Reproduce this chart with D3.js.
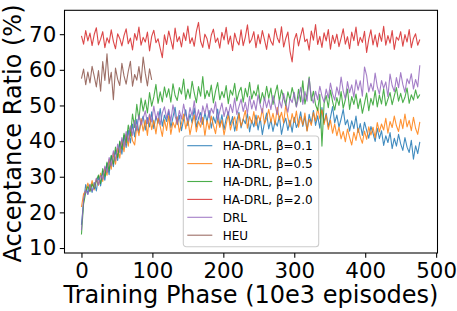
<!DOCTYPE html>
<html>
<head>
<meta charset="utf-8">
<script src="https://cdn.jsdelivr.net/npm/d3@7"></script>
<style>
  body { margin: 0; background: #fff; }
  svg text { font-family: "DejaVu Sans", sans-serif; fill: #000; }
</style>
</head>
<body>
<div id="chart"></div>
<script>
// data, one value every 3 steps (x = index * 3)
var STEP = 3;

var heu = [
  69.5, 67.2, 71.0, 68.1, 70.3, 66.8, 69.9, 71.8, 67.0, 68.6, 70.7, 66.2, 69.0, 67.5, 71.2, 68.0, 65.9, 70.1, 68.8, 66.7,
  69.6, 71.5, 67.3, 68.9, 65.6, 70.2, 68.3, 72.0, 66.9, 69.1, 67.8, 70.6, 65.3, 69.4, 71.1, 67.6, 68.7, 66.0, 63.4, 69.8,
  67.1, 70.9, 68.4, 65.8, 71.7, 67.9, 69.3, 66.4, 70.4, 68.2, 72.3, 67.4, 69.0, 66.6, 70.8, 73.3, 68.0, 66.3, 70.0, 68.7,
  65.9, 69.7, 71.4, 67.7, 68.9, 66.1, 70.5, 68.4, 71.9, 67.2, 69.5, 65.4, 70.3, 68.1, 67.0, 71.2, 66.8, 69.2, 72.6, 67.5,
  68.6, 70.7, 66.2, 69.9, 67.3, 71.0, 68.5, 65.7, 70.1, 68.0, 66.9, 71.6, 69.0, 67.6, 72.1, 66.4, 68.8, 70.6, 65.2, 62.2,
  68.4, 70.2, 66.7, 69.5, 71.8, 67.9, 68.6, 65.5, 70.9, 68.3, 72.7, 67.1, 69.4, 66.3, 70.4, 68.1, 71.3, 65.8, 69.7, 67.4,
  70.0, 66.5, 68.9, 71.5, 67.2, 69.3, 65.9, 70.6, 68.2, 72.0, 66.8, 69.1, 67.7, 70.8, 64.9, 68.6, 71.2, 67.0, 69.8, 66.4,
  70.3, 68.0, 72.2, 66.9, 69.6, 67.5, 71.0, 65.7, 69.2, 68.3, 70.7, 66.6, 69.9, 67.8, 71.3, 66.2, 68.8, 70.1, 66.9, 68.5
];

var drl = [
  57.5, 60.2, 55.8, 59.4, 56.3, 61.0, 58.2, 55.2, 59.8, 54.0, 62.3, 57.0, 64.5, 56.1, 59.3, 51.6, 60.5,
  57.4, 55.6, 61.8, 58.3, 56.0, 59.6, 62.4, 55.4, 58.7, 57.1, 60.9, 56.4, 63.6, 59.0, 55.5, 60.3, 57.2
];

var beta01 = [
  16.5, 23.0, 27.8, 25.1, 27.9, 25.6, 28.4, 26.0, 30.2, 27.4, 31.5, 29.0, 33.8, 30.6, 35.9, 32.8, 37.4, 34.6, 39.8, 36.3,
  41.6, 38.2, 43.0, 39.5, 44.8, 41.2, 46.1, 42.4, 45.3, 47.0, 43.1, 46.6, 44.0, 48.2, 43.5, 46.9, 45.0, 49.1, 44.2, 47.3,
  45.5, 48.4, 43.8, 46.7, 49.5, 44.6, 47.2, 42.9, 46.0, 48.8, 44.3, 47.6, 45.1, 49.3, 43.9, 46.4, 48.0, 44.7, 47.9, 45.4,
  48.6, 43.6, 46.8, 45.0, 49.0, 44.1, 47.4, 43.2, 46.3, 48.2, 44.5, 46.9, 42.8, 45.7, 48.1, 43.7, 46.2, 44.9, 47.7, 42.6,
  45.8, 44.0, 47.3, 43.1, 46.5, 41.8, 45.2, 47.9, 43.4, 46.0, 42.7, 45.6, 44.2, 47.0, 41.9, 44.8, 46.4, 43.0, 45.9, 42.5,
  46.7, 43.8, 45.3, 48.2, 44.1, 46.9, 42.9, 47.5, 45.0, 48.6, 44.4, 47.1, 43.6, 49.4, 45.2, 47.8, 44.0, 46.6, 49.7, 45.1,
  47.3, 43.9, 46.2, 48.9, 44.6, 46.0, 42.8, 45.7, 43.5, 47.0, 42.4, 44.9, 41.6, 45.3, 43.0, 40.8, 44.1, 42.2, 39.9, 43.6,
  40.7, 42.9, 38.8, 41.5, 39.6, 42.4, 37.9, 40.8, 38.6, 41.9, 39.2, 37.4, 41.0, 38.3, 36.8, 40.2, 34.9, 38.7, 36.5, 39.8
];

var beta05 = [
  21.5, 25.2, 26.0, 28.2, 26.1, 28.9, 26.3, 29.4, 27.6, 31.0, 28.7, 32.6, 30.4, 34.9, 32.1, 36.7, 33.5, 38.1, 35.2, 40.3,
  37.0, 41.9, 38.6, 43.7, 40.1, 38.9, 44.2, 41.5, 46.3, 42.8, 45.9, 41.6, 47.4, 43.2, 45.8, 42.0, 46.5, 44.1, 41.3, 46.0,
  43.0, 47.1, 41.9, 45.3, 43.7, 46.8, 42.5, 45.0, 47.6, 43.4, 46.2, 41.8, 44.9, 47.3, 42.6, 45.5, 43.9, 46.7, 41.4, 45.8,
  43.3, 47.0, 44.4, 42.1, 46.3, 43.8, 45.9, 41.7, 44.6, 47.5, 43.1, 45.4, 46.8, 42.9, 47.7, 44.2, 46.1, 48.6, 43.6, 46.9,
  45.0, 48.3, 44.3, 47.2, 45.7, 49.1, 44.8, 46.4, 48.9, 45.3, 47.8, 44.6, 49.5, 46.0, 48.1, 45.1, 50.2, 46.6, 44.0, 47.7,
  45.2, 48.4, 43.9, 46.8, 44.5, 47.9, 42.8, 46.1, 44.4, 48.0, 45.6, 49.3, 46.2, 48.8, 44.7, 47.4, 43.3, 45.9, 42.2, 44.8,
  41.5, 43.9, 40.6, 42.7, 39.8, 43.4, 41.0, 38.9, 42.5, 40.2, 43.6, 41.1, 39.4, 42.8, 40.5, 44.0, 41.7, 43.9, 40.9, 45.2,
  42.6, 44.8, 43.1, 46.4, 42.2, 45.5, 43.8, 47.0, 44.3, 42.7, 46.1, 43.5, 47.6, 44.0, 45.8, 42.9, 46.7, 43.6, 41.9, 45.4
];

var beta10 = [
  13.8, 22.4, 25.5, 27.3, 25.8, 28.0, 26.7, 28.8, 30.5, 28.1, 32.3, 30.0, 34.1, 31.8, 36.0, 33.6, 38.3, 35.4, 40.0, 37.7,
  42.2, 39.6, 44.5, 41.4, 47.6, 43.8, 50.3, 46.0, 52.1, 48.4, 51.5, 47.9, 53.6, 49.8, 52.4, 55.9, 50.6, 53.8, 51.0, 55.2,
  52.3, 54.7, 50.9, 56.1, 52.8, 51.4, 55.0, 53.2, 57.4, 51.7, 54.6, 52.0, 56.8, 53.5, 50.8, 55.3, 52.6, 58.1, 51.9, 54.2,
  52.5, 55.7, 50.7, 54.0, 56.4, 51.6, 53.9, 52.2, 55.6, 50.5, 54.3, 52.9, 56.2, 51.3, 53.7, 55.1, 50.9, 54.8, 52.4, 56.5,
  51.8, 54.1, 52.7, 55.8, 50.6, 53.6, 51.5, 55.4, 52.0, 54.9, 50.3, 53.3, 55.7, 51.2, 54.4, 52.1, 50.0, 53.8, 51.6, 55.0,
  52.6, 49.7, 54.5, 51.0, 56.9, 50.4, 53.4, 58.0, 51.3, 54.0, 50.2, 48.6, 53.1, 38.6, 50.5, 52.8, 49.4, 54.3, 51.1, 48.7,
  52.2, 50.0, 53.9, 49.2, 51.6, 54.6, 48.9, 52.5, 50.3, 53.2, 49.1, 51.9, 47.8, 50.6, 53.5, 48.5, 52.0, 50.1, 54.2, 49.6,
  52.9, 50.4, 54.7, 49.9, 51.8, 53.6, 50.2, 52.7, 55.0, 51.2, 53.4, 50.8, 52.3, 54.9, 50.6, 53.0, 51.5, 54.4, 52.0, 53.1
];

var beta20 = [
  15.0, 23.6, 26.3, 25.0, 27.5, 26.0, 27.1, 29.6, 27.8, 30.4, 29.2, 33.0, 31.2, 35.4, 33.0, 37.3, 34.5, 39.2, 36.8, 41.0,
  38.4, 42.7, 39.9, 44.3, 41.6, 45.8, 43.0, 47.4, 44.5, 46.3, 48.5, 44.9, 47.6, 45.4, 49.8, 46.1, 48.3, 44.6, 47.9, 49.6,
  46.4, 48.9, 45.6, 50.2, 47.0, 44.9, 48.6, 46.2, 50.4, 47.3, 45.7, 49.4, 47.1, 51.3, 46.0, 48.8, 45.3, 49.9, 47.6, 50.5,
  46.6, 49.2, 47.8, 51.0, 45.9, 48.4, 50.7, 46.9, 49.5, 47.2, 50.3, 48.0, 52.1, 47.5, 49.7, 51.8, 48.3, 50.9, 47.7, 52.6,
  49.0, 51.4, 48.6, 53.0, 50.1, 47.9, 52.3, 49.4, 51.7, 48.8, 52.8, 50.0, 47.4, 51.5, 49.3, 53.4, 50.6, 48.1, 52.0, 50.8,
  53.7, 49.5, 52.2, 55.1, 50.3, 53.9, 51.2, 57.6, 52.4, 50.7, 54.0, 51.6, 55.4, 52.7, 50.9, 54.6, 52.1, 56.3, 53.3, 51.5,
  55.2, 52.9, 58.0, 54.1, 51.8, 56.7, 53.6, 55.8, 52.3, 57.2, 54.3, 56.9, 52.6, 60.8, 58.4, 53.8, 56.2, 54.0, 59.1, 55.3,
  53.2, 57.0, 54.8, 56.6, 52.5, 58.8, 55.6, 53.9, 57.8, 55.0, 59.2, 55.9, 53.7, 57.5, 56.1, 58.9, 54.6, 57.3, 55.2, 61.3
];

var xTicks = [0, 100, 200, 300, 400, 500];
var yTicks = [10, 20, 30, 40, 50, 60, 70];
var legendLabels = ["HA-DRL, \u03b2=0.1", "HA-DRL, \u03b2=0.5", "HA-DRL, \u03b2=1.0", "HA-DRL, \u03b2=2.0", "DRL", "HEU"];

// colours (matplotlib tab10)
var C = {
  blue: "#1f77b4", orange: "#ff7f0e", green: "#2ca02c",
  red: "#d62728", purple: "#9467bd", brown: "#8c564b"
};

// drawn series, in plotting order
var series = [
  { values: beta01, color: C.blue },
  { values: beta05, color: C.orange },
  { values: beta10, color: C.green },
  { values: heu, color: C.red },
  { values: beta20, color: C.purple },
  { values: drl, color: C.brown }
];
var legendColors = [C.blue, C.orange, C.green, C.red, C.purple, C.brown];

// set the dimensions and margins of the graph
var W = 457, H = 311;
var margin = { top: 10.3, left: 64.5 },
  width = 373,
  height = 242.7;

var svg = d3
  .select("#chart")
  .append("svg")
  .attr("width", W)
  .attr("height", H);

var g = svg
  .append("g")
  .attr("transform", "translate(" + margin.left + "," + margin.top + ")");

var x = d3.scaleLinear().domain([-23.9, 501.9]).range([0, width]);
var y = d3.scaleLinear().domain([8.6, 76.7]).range([height, 0]);

// X axis
var xAxis = g
  .append("g")
  .attr("transform", "translate(0," + height + ")")
  .call(d3.axisBottom(x).tickValues(xTicks).tickSize(4.7).tickPadding(5.2));
xAxis.select(".domain").remove();
xAxis.selectAll("text").style("font-size", "21.33px");
xAxis.selectAll("line").attr("stroke-width", 1.07);

// Y axis
var yAxis = g
  .append("g")
  .call(d3.axisLeft(y).tickValues(yTicks).tickSize(4.7).tickPadding(3.6));
yAxis.select(".domain").remove();
yAxis.selectAll("text").style("font-size", "21.33px");
yAxis.selectAll("line").attr("stroke-width", 1.07);

// lines
var line = d3
  .line()
  .x(function (d, i) { return x(i * STEP); })
  .y(function (d) { return y(d); });

g.append("g")
  .selectAll("path")
  .data(series)
  .enter()
  .append("path")
  .attr("d", function (s) { return line(s.values); })
  .attr("fill", "none")
  .attr("stroke", function (s) { return s.color; })
  .attr("stroke-width", 1.1)
  .attr("stroke-opacity", 0.85)
  .attr("stroke-linejoin", "round");

// frame
g.append("rect")
  .attr("x", 0)
  .attr("y", 0)
  .attr("width", width)
  .attr("height", height)
  .attr("fill", "none")
  .attr("stroke", "#000")
  .attr("stroke-width", 1.07);

// legend
var legend = svg.append("g").attr("transform", "translate(183.3,136)");
legend
  .append("rect")
  .attr("width", 135.4)
  .attr("height", 110.7)
  .attr("rx", 3)
  .attr("fill", "#fff")
  .attr("fill-opacity", 0.8)
  .attr("stroke", "#cccccc")
  .attr("stroke-width", 1.07);

var rows = legend
  .selectAll(".row")
  .data(legendLabels)
  .enter()
  .append("g")
  .attr("transform", function (d, i) { return "translate(0," + (9.7 + i * 17.9) + ")"; });
rows
  .append("line")
  .attr("x1", 4)
  .attr("x2", 29)
  .attr("stroke", function (d, i) { return legendColors[i]; })
  .attr("stroke-width", 1.1)
  .attr("stroke-opacity", 0.85);
rows
  .append("text")
  .attr("x", 39.4)
  .attr("dy", "0.36em")
  .style("font-size", "12px")
  .text(function (d) { return d; });

// axis titles
svg
  .append("text")
  .attr("x", margin.left + width / 2)
  .attr("y", 303)
  .attr("text-anchor", "middle")
  .style("font-size", "24px")
  .text("Training Phase (10e3 episodes)");

svg
  .append("text")
  .attr("transform", "translate(20.5,133.5)rotate(-90)")
  .attr("text-anchor", "middle")
  .style("font-size", "24px")
  .text("Acceptance Ratio (%)");
</script>
</body>
</html>
